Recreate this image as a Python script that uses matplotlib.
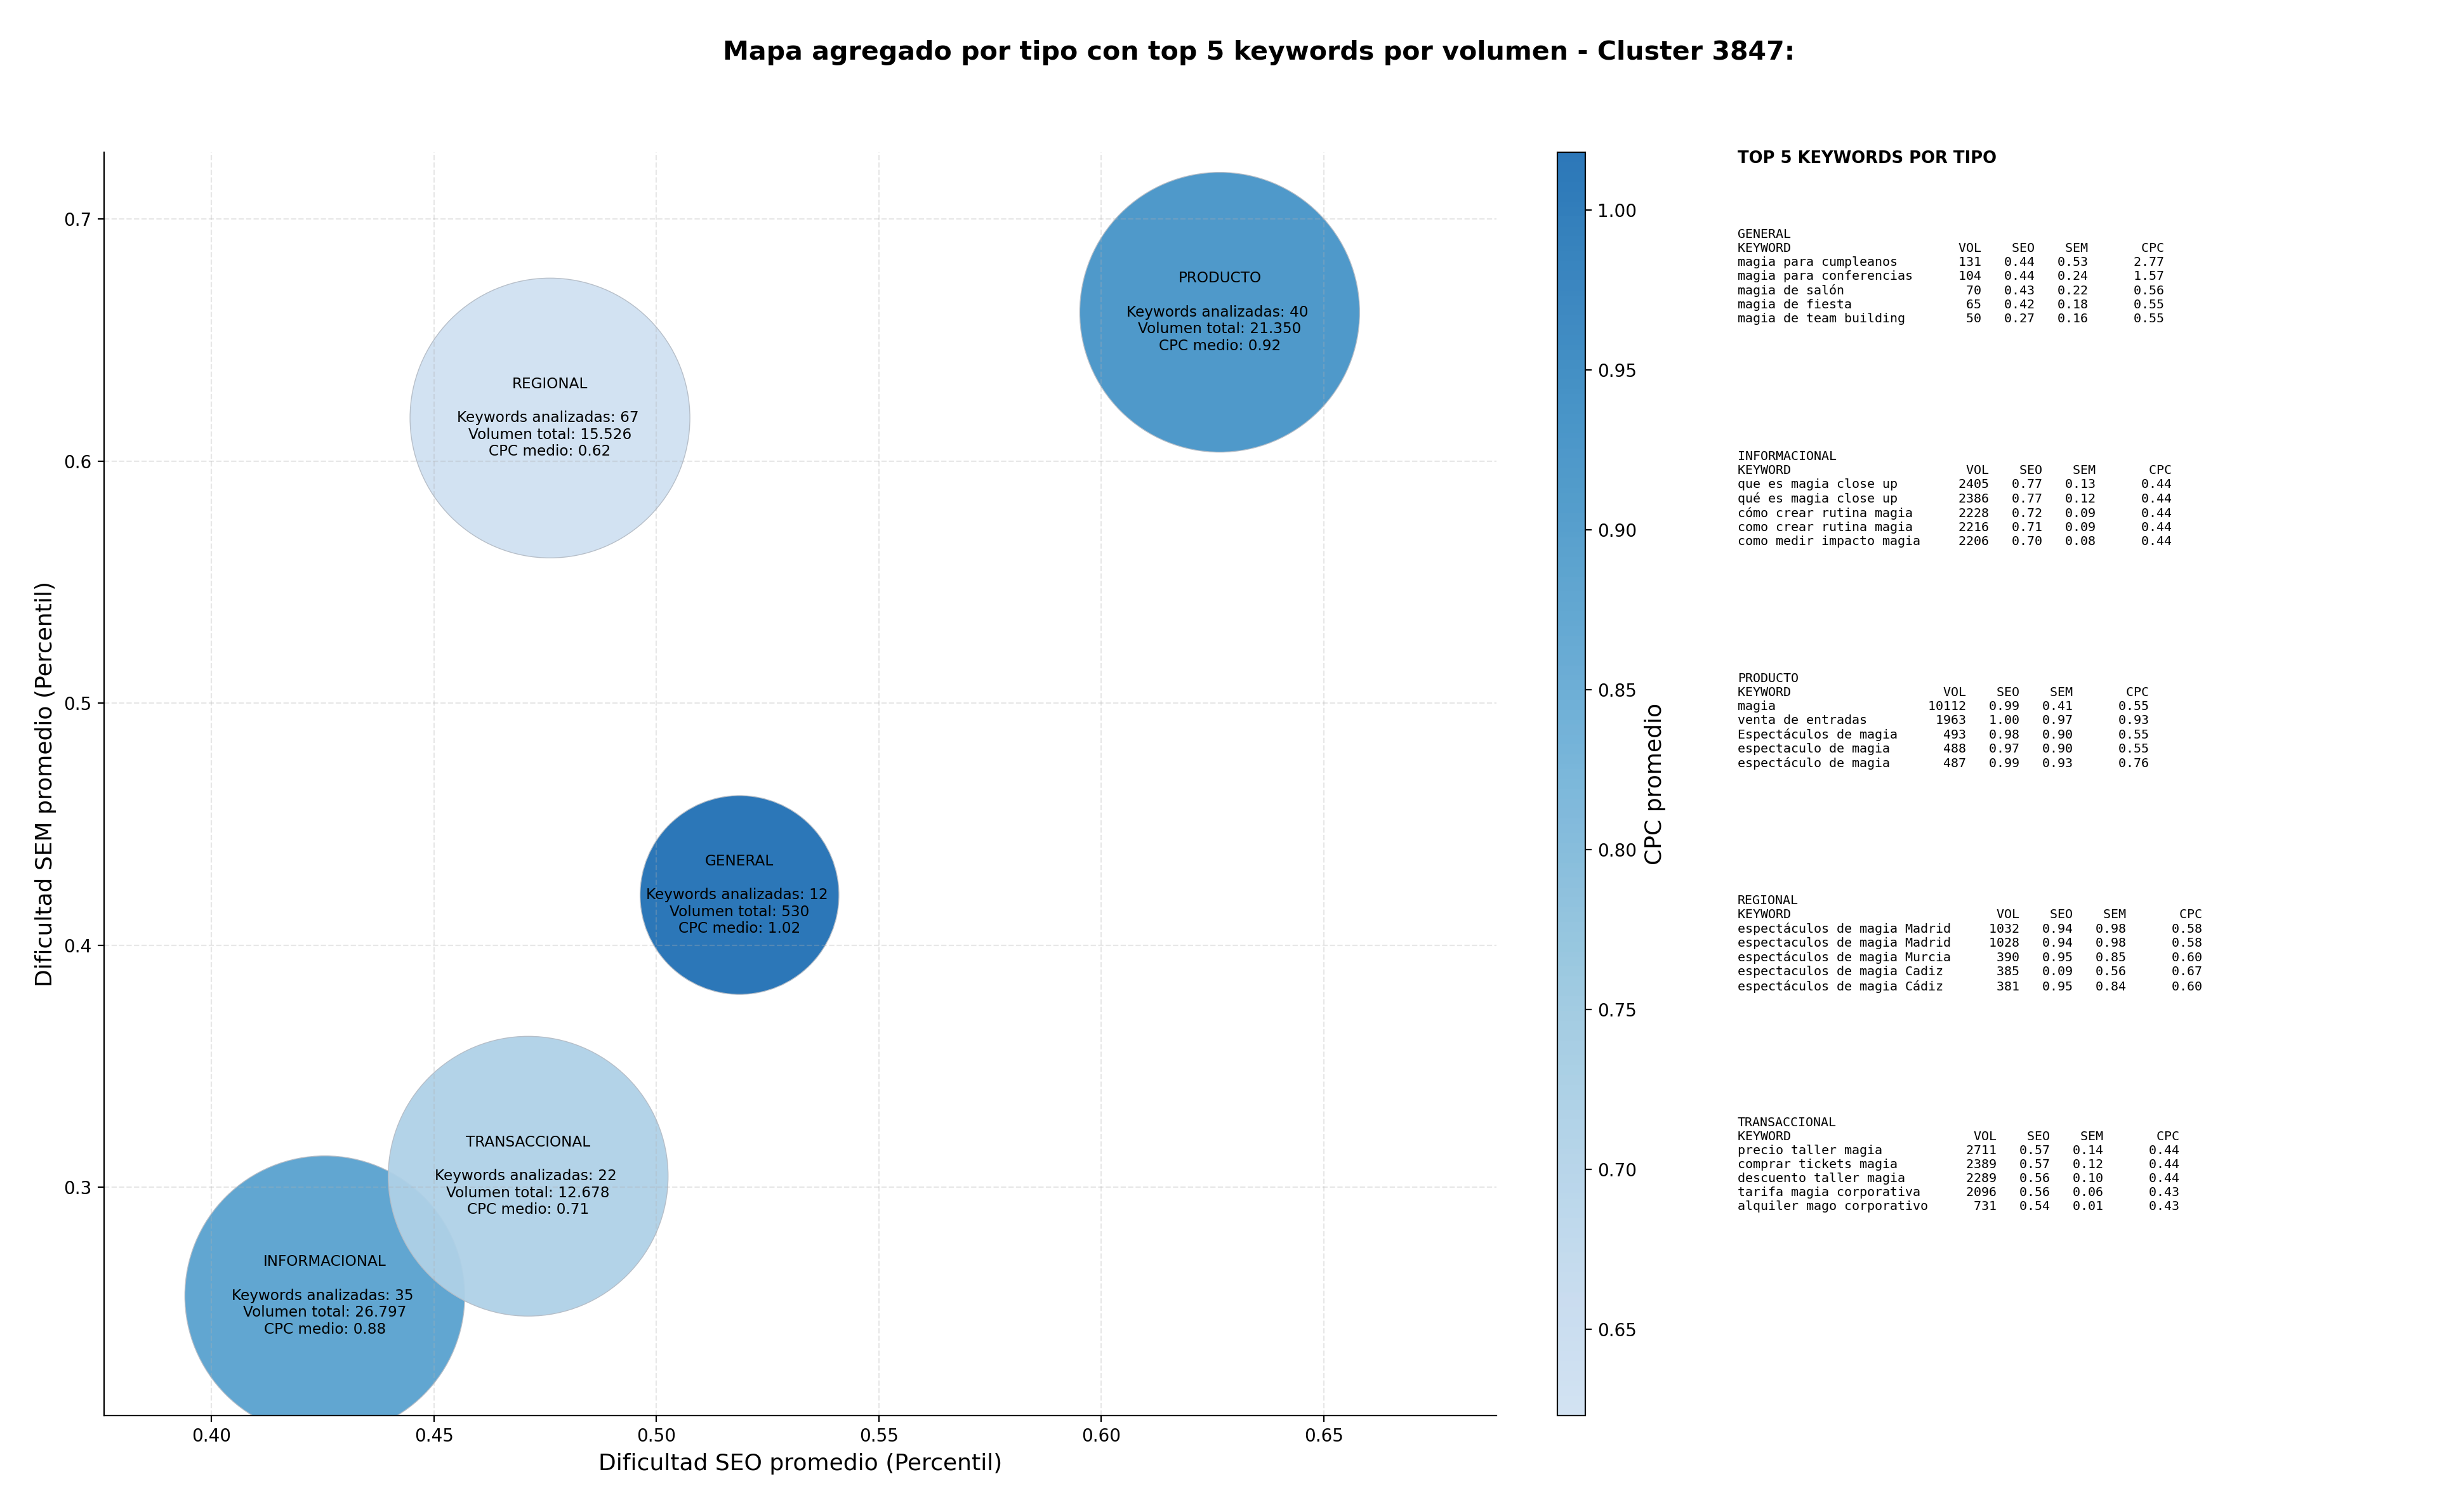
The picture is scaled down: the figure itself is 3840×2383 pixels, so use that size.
import numpy as np
import matplotlib
matplotlib.use("Agg")
import matplotlib.pyplot as plt
from matplotlib.colors import ListedColormap, Normalize

# ---------------- data ----------------
tipos = ["GENERAL", "INFORMACIONAL", "PRODUCTO", "REGIONAL", "TRANSACCIONAL"]
seo_mean = [0.5187, 0.4255, 0.6266, 0.4761, 0.4712]
sem_mean = [0.4207, 0.2551, 0.6615, 0.6178, 0.3045]
n_keywords = [12, 35, 40, 67, 22]
vol_total = [530, 26797, 21350, 15526, 12678]
cpc_mean = [1.018, 0.88, 0.92, 0.623, 0.71]

general_kw = ["magia para cumpleanos", "magia para conferencias", "magia de salón",
              "magia de fiesta", "magia de team building"]
general_vol = [131, 104, 70, 65, 50]
general_seo = [0.44, 0.44, 0.43, 0.42, 0.27]
general_sem = [0.53, 0.24, 0.22, 0.18, 0.16]
general_cpc = [2.77, 1.57, 0.56, 0.55, 0.55]

informacional_kw = ["que es magia close up", "qué es magia close up", "cómo crear rutina magia",
                    "como crear rutina magia", "como medir impacto magia"]
informacional_vol = [2405, 2386, 2228, 2216, 2206]
informacional_seo = [0.77, 0.77, 0.72, 0.71, 0.70]
informacional_sem = [0.13, 0.12, 0.09, 0.09, 0.08]
informacional_cpc = [0.44, 0.44, 0.44, 0.44, 0.44]

producto_kw = ["magia", "venta de entradas", "Espectáculos de magia",
               "espectaculo de magia", "espectáculo de magia"]
producto_vol = [10112, 1963, 493, 488, 487]
producto_seo = [0.99, 1.00, 0.98, 0.97, 0.99]
producto_sem = [0.41, 0.97, 0.90, 0.90, 0.93]
producto_cpc = [0.55, 0.93, 0.55, 0.55, 0.76]

regional_kw = ["espectáculos de magia Madrid", "espectaculos de magia Madrid",
               "espectáculos de magia Murcia", "espectaculos de magia Cadiz",
               "espectáculos de magia Cádiz"]
regional_vol = [1032, 1028, 390, 385, 381]
regional_seo = [0.94, 0.94, 0.95, 0.09, 0.95]
regional_sem = [0.98, 0.98, 0.85, 0.56, 0.84]
regional_cpc = [0.58, 0.58, 0.60, 0.67, 0.60]

transaccional_kw = ["precio taller magia", "comprar tickets magia", "descuento taller magia",
                    "tarifa magia corporativa", "alquiler mago corporativo"]
transaccional_vol = [2711, 2389, 2289, 2096, 731]
transaccional_seo = [0.57, 0.57, 0.56, 0.56, 0.54]
transaccional_sem = [0.14, 0.12, 0.10, 0.06, 0.01]
transaccional_cpc = [0.44, 0.44, 0.44, 0.43, 0.43]

top_tables = {
    "GENERAL": (general_kw, general_vol, general_seo, general_sem, general_cpc),
    "INFORMACIONAL": (informacional_kw, informacional_vol, informacional_seo, informacional_sem, informacional_cpc),
    "PRODUCTO": (producto_kw, producto_vol, producto_seo, producto_sem, producto_cpc),
    "REGIONAL": (regional_kw, regional_vol, regional_seo, regional_sem, regional_cpc),
    "TRANSACCIONAL": (transaccional_kw, transaccional_vol, transaccional_seo, transaccional_sem, transaccional_cpc),
}

# ---------------- figure ----------------
W, H, DPI = 3840, 2383, 200
fig = plt.figure(figsize=(W / DPI, H / DPI), dpi=DPI)

ax = fig.add_axes([164 / W, 1 - 2231 / H, (2358 - 164) / W, (2231 - 240) / H])
cax = fig.add_axes([2454 / W, 1 - 2231 / H, (2498 - 2454) / W, (2231 - 240) / H])

cmap = ListedColormap(plt.cm.Blues(np.linspace(0.2, 0.75, 256)))
norm = Normalize(vmin=min(cpc_mean), vmax=max(cpc_mean))

vols = np.array(vol_total, dtype=float)
sizes = np.clip(vols * 24.0, None, 25200)

sc = ax.scatter(seo_mean, sem_mean, s=sizes, c=cpc_mean, cmap=cmap, norm=norm,
                alpha=0.95, edgecolors="#b4bcc6", linewidths=0.5)

for t, x, y, n, v, c in zip(tipos, seo_mean, sem_mean, n_keywords, vol_total, cpc_mean):
    vol_str = f"{v:,}".replace(",", ".")
    ax.text(x, y, f"{t}\n\nKeywords analizadas: {n} \nVolumen total: {vol_str}\nCPC medio: {c:.2f}",
            ha="center", va="center", fontsize=8.35, color="black")

ax.set_xlim(0.3759, 0.6888)
ax.set_ylim(0.2056, 0.7276)
ax.set_xticks([0.40, 0.45, 0.50, 0.55, 0.60, 0.65])
ax.set_yticks([0.3, 0.4, 0.5, 0.6, 0.7])
ax.tick_params(labelsize=10)
ax.grid(True, linestyle="--", alpha=0.3)
ax.spines["top"].set_visible(False)
ax.spines["right"].set_visible(False)
ax.set_xlabel("Dificultad SEO promedio (Percentil)", fontsize=13)
ax.set_ylabel("Dificultad SEM promedio (Percentil)", fontsize=13)

cb = fig.colorbar(sc, cax=cax)
cb.set_label("CPC promedio", fontsize=13)
cb.ax.tick_params(labelsize=10)

fig.suptitle("Mapa agregado por tipo con top 5 keywords por volumen - Cluster 3847:",
             fontsize=14.8, fontweight="bold", x=0.5165, y=1 - 83 / H, va="center")

# ---------------- tables ----------------
tx = 2738 / W
fig.text(tx, 1 - 250 / H, "TOP 5 KEYWORDS POR TIPO", fontsize=9.3, fontweight="bold",
         va="center", ha="left")

y0 = 1 - 360 / H
step = 350 / H
for i, t in enumerate(tipos):
    kws, vv, ss, mm, cc = top_tables[t]
    w = max(len(k) for k in kws) + 3
    lines = [t, f"{'KEYWORD':<{w}}{'VOL':>6}{'SEO':>7}{'SEM':>7}{'CPC':>10}"]
    for k, a, b, d, e in zip(kws, vv, ss, mm, cc):
        lines.append(f"{k:<{w}}{a:>6}{b:>7.2f}{d:>7.2f}{e:>10.2f}")
    fig.text(tx, y0 - i * step, "\n".join(lines), family="monospace", fontsize=7.2,
             va="top", ha="left")

fig.savefig("out.png", dpi=DPI)
